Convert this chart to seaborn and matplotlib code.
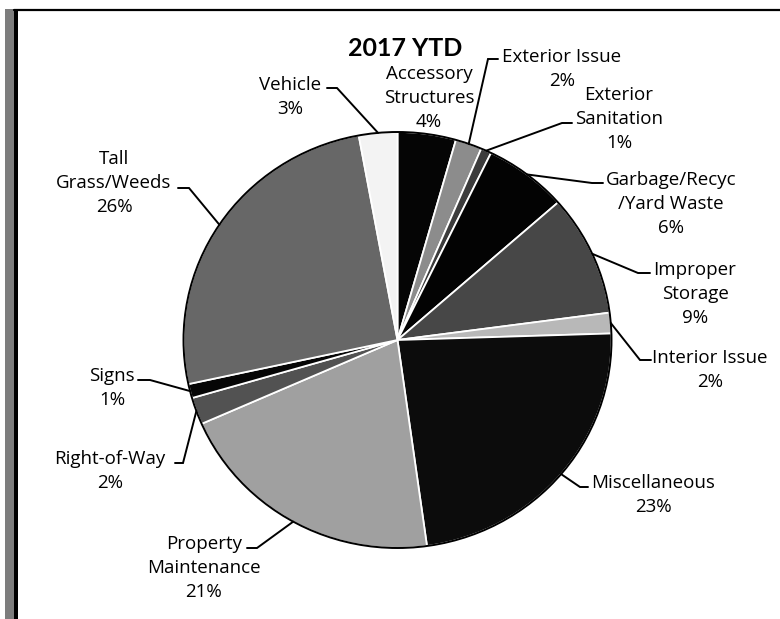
import matplotlib
matplotlib.use("Agg")
import matplotlib.pyplot as plt
import seaborn as sns
import numpy as np
from matplotlib.patches import Ellipse, Rectangle
from matplotlib.lines import Line2D

# ---------------- data ----------------
categories = ["Accessory\nStructures", "Exterior Issue", "Exterior\nSanitation",
              "Garbage/Recyc\n/Yard Waste", "Improper\nStorage", "Interior Issue",
              "Miscellaneous", "Property\nMaintenance", "Right-of-Way", "Signs",
              "Tall\nGrass/Weeds", "Vehicle"]
shares = [4.4, 2.0, 0.8, 6.3, 9.4, 1.6, 23.3, 20.6, 2.1, 1.1, 25.5, 2.9]
pct_labels = ["4%", "2%", "1%", "6%", "9%", "2%", "23%", "21%", "2%", "1%", "26%", "3%"]
title = "2017 YTD"

# ---------------- styling / layout ----------------
colors = ["#050505", "#8c8c8c", "#3c3c3c", "#030303", "#474747", "#b8b8b8",
          "#0c0c0c", "#a0a0a0", "#525252", "#060606", "#676767", "#f3f3f3"]

# label centres (pixels from top-left)
label_pos = [(429, 98), (562, 69), (619, 119), (671, 204), (695, 294), (710, 370),
             (653, 495), (204, 568), (110, 471), (112, 388), (114, 183), (290, 97)]
# leader elbow (x, y) and text-side end x (None = no leader)
leader_elbow = [None, (488, 59), (562, 123), (592, 183), (638, 273), (640, 360),
                (580, 487), (257, 548), (183, 463), (150, 380), (189, 188), (337, 88)]
leader_end_x = [None, 498, 572, 603, 650, 651, 588, 247, 175, 138, 178, 327]

W, H = 780, 619
sns.set_theme(style="white")
plt.rcParams['font.family'] = ['Open Sans', 'DejaVu Sans']

fig = plt.figure(figsize=(W / 100, H / 100), dpi=100)
fig.patch.set_facecolor("white")

CX, CY, RX, RY = 397.5, 340, 214, 208
ax = fig.add_axes([(CX - RX) / W, (H - CY - RY) / H, 2 * RX / W, 2 * RY / H])
wedges, _ = ax.pie(shares, colors=colors, startangle=90, counterclock=False,
                   wedgeprops=dict(edgecolor="white", linewidth=1.3))
ax.set_aspect("auto")
ax.set_xlim(-1, 1)
ax.set_ylim(-1, 1)
ax.axis("off")
ax.add_patch(Ellipse((0, 0), 2, 2, fill=False, edgecolor="black", lw=1.4, clip_on=False))


def P(px, py):
    return (px - CX) / RX, (CY - py) / RY


for i, w in enumerate(wedges):
    tx, ty = P(*label_pos[i])
    ax.text(tx, ty, f"{categories[i]}\n{pct_labels[i]}", ha="center", va="center",
            fontsize=13.5, linespacing=1.45, color="black")
    if leader_elbow[i] is not None:
        mid = np.deg2rad((w.theta1 + w.theta2) / 2)
        ex, ey = np.cos(mid), np.sin(mid)
        bx, by = P(*leader_elbow[i])
        axx, _ = P(leader_end_x[i], leader_elbow[i][1])
        ax.plot([ex, bx, axx], [ey, by, by], color="black", lw=1.4,
                clip_on=False, solid_joinstyle="miter")

tx, ty = P(405, 48)
ax.text(tx, ty, title, ha="center", va="center", fontsize=18, fontweight="bold",
        family=["Lato", "DejaVu Sans"], color="black")

# scanned frame
fig.add_artist(Rectangle((5 / W, 0), 9 / W, (H - 9) / H, transform=fig.transFigure,
                         facecolor="#7d7d7d", edgecolor="none"))
fig.add_artist(Rectangle((14 / W, 0), 4 / W, (H - 9) / H, transform=fig.transFigure,
                         facecolor="black", edgecolor="none"))
fig.add_artist(Line2D([14 / W, 1], [(H - 9.5) / H, (H - 9.5) / H], transform=fig.transFigure,
                      color="black", lw=1.6))

fig.savefig("out.png", dpi=100, facecolor="white")
